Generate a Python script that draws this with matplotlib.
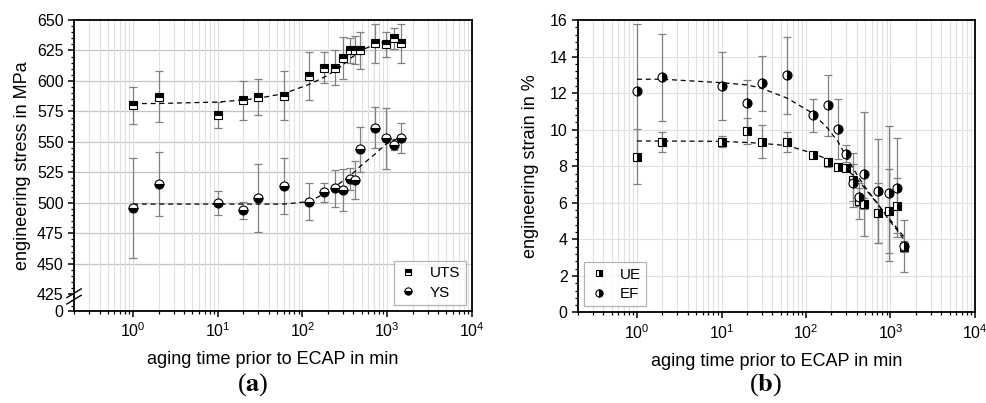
import numpy as np
import matplotlib
matplotlib.use("Agg")
import matplotlib.pyplot as plt
from matplotlib.ticker import LogLocator, MultipleLocator, NullFormatter

plt.rcParams["font.family"] = ["Liberation Sans", "DejaVu Sans"]
plt.rcParams["mathtext.fontset"] = "stix"

# aging time prior to ECAP in min
time = [1, 2, 10, 20, 30, 60, 120, 180, 240, 300, 360, 420, 480, 720, 960, 1200, 1440]

# (a) engineering stress in MPa
uts = [580, 587, 572, 584, 587, 588, 604, 611, 611, 619, 625, 625, 625, 631, 630, 635, 631]
uts_err = [15, 21, 10.5, 16, 15, 20, 19.5, 12.5, 14, 17, 10, 11.5, 15, 16, 10, 8.5, 16]
uts_fit = [581.4, 581.5, 582.7, 584.4, 585.8, 589.6, 597.2, 603, 608.2, 613, 618, 621.3,
           624.8, 630, 632, 633, 633.6]
ys = [495.5, 515.5, 500, 494, 503.7, 514, 501, 508.5, 512, 510.5, 519.6, 518.7, 544,
      561.7, 553, 547.5, 553]
ys_err = [41, 26, 10, 7, 28, 23, 15, 7.5, 15, 17, 8.7, 15.5, 18.5, 17, 25, 4.5, 12.5]
ys_fit = [499, 499, 499, 499, 499, 499, 501, 507.5, 513, 518, 522, 526, 530, 540, 548,
          551.5, 553]

# (b) engineering strain in %
ue = [8.52, 9.33, 9.33, 9.93, 9.34, 9.34, 8.6, 8.22, 7.98, 7.92, 7.25, 6.1, 5.94, 5.46,
      5.55, 5.83, 3.6]
ue_err = [1.5, 0.55, 0.3, 0.7, 0.9, 0.55, 0.1, 0.25, 0.15, 0.15, 1.5, 1.0, 0.3, 1.65,
          2.3, 1.5, 0.3]
ue_fit = [9.38, 9.38, 9.36, 9.3, 9.25, 9.13, 8.71, 8.38, 8.07, 7.8, 7.52, 7.2, 6.88,
          5.88, 5.15, 4.6, 4.15]
ef = [12.13, 12.86, 12.39, 11.44, 12.54, 12.97, 10.8, 11.33, 10.02, 8.69, 7.1, 6.33,
      7.56, 6.65, 6.52, 6.83, 3.64]
ef_err = [3.64, 2.4, 1.85, 1.3, 1.5, 2.1, 0.9, 1.65, 1.65, 0.47, 1.0, 0.5, 3.4, 2.85,
          3.7, 2.7, 1.4]
ef_fit = [12.76, 12.76, 12.57, 12.45, 12.26, 11.72, 10.9, 10.08, 9.34, 8.52, 7.89, 7.4,
          6.97, 5.9, 5.06, 4.5, 4.0]

stress_ticks = [425, 450, 475, 500, 525, 550, 575, 600, 625, 650]
strain_ticks = [0, 2, 4, 6, 8, 10, 12, 14, 16]

ZERO_POS = 411.3  # where the "0" sits below the axis break

fig = plt.figure(figsize=(9.87, 4.03), dpi=100)
ax1 = fig.add_axes([0.075, 0.2283, 0.403, 0.7221])
ax2 = fig.add_axes([0.5856, 0.2246, 0.4022, 0.7258])

err_kw = dict(ecolor="#808080", elinewidth=0.9, capsize=3.2, capthick=0.9, linestyle="none")
mk_kw = dict(markeredgecolor="black", markeredgewidth=0.8,
             markerfacecolor="black", markerfacecoloralt="white", linestyle="none")


def style_axes(ax):
    ax.set_xscale("log")
    ax.set_xlim(0.2, 1e4)
    ax.xaxis.set_major_locator(LogLocator(base=10, numticks=10))
    ax.xaxis.set_minor_locator(LogLocator(base=10, subs=np.arange(2, 10), numticks=20))
    ax.xaxis.set_minor_formatter(NullFormatter())
    ax.xaxis.grid(True, which="both", color="#e0e0e0", lw=0.8)
    ax.set_axisbelow(True)
    for s in ax.spines.values():
        s.set_linewidth(1.3)
    ax.tick_params(which="major", direction="out", length=4, width=1.1, labelsize=11.5)
    ax.tick_params(which="minor", direction="out", length=2.5, width=0.9)
    ax.set_xlabel("aging time prior to ECAP in min", fontsize=13, labelpad=8)


# ---- (a)
style_axes(ax1)
ax1.set_ylim(ZERO_POS, 650)
ax1.set_yticks([ZERO_POS] + stress_ticks)
ax1.set_yticklabels(["0"] + [str(v) for v in stress_ticks])
ax1.yaxis.set_minor_locator(MultipleLocator(5))
for v in stress_ticks[1:-1]:
    ax1.axhline(v, color="#c4c4c4", lw=0.9, zorder=0.5)

ax1.errorbar(time, uts, yerr=uts_err, **err_kw, zorder=2)
ax1.errorbar(time, ys, yerr=ys_err, **err_kw, zorder=2)
ax1.plot(time, uts_fit, color="black", lw=0.9, dashes=(4, 3), zorder=3)
ax1.plot(time, ys_fit, color="black", lw=0.9, dashes=(4, 3), zorder=3)
ax1.plot(time, uts, marker="s", markersize=5.6, fillstyle="top", label="UTS", zorder=4, **mk_kw)
ax1.plot(time, ys, marker="o", markersize=6.5, fillstyle="bottom", label="YS", zorder=4, **mk_kw)
ax1.set_ylabel("engineering stress in MPa", fontsize=13, labelpad=4)

# axis break marks
for dy in (-0.011, 0.011):
    ax1.plot([-0.018, 0.018], [0.05 + dy - 0.015, 0.05 + dy + 0.015],
             transform=ax1.transAxes, color="black", lw=1, clip_on=False, zorder=6)

leg1 = ax1.legend(loc="lower right", fontsize=11, frameon=True, fancybox=False,
                  edgecolor="#a0a0a0", handlelength=1.2, markerscale=0.8,
                  borderaxespad=0.4, labelspacing=0.35, borderpad=0.35)
leg1.get_frame().set_linewidth(0.9)

# ---- (b)
style_axes(ax2)
ax2.set_ylim(0, 16)
ax2.set_yticks(strain_ticks)
ax2.yaxis.set_minor_locator(MultipleLocator(0.4))
ax2.yaxis.grid(True, which="major", color="#e0e0e0", lw=0.8)

ax2.errorbar(time, ue, yerr=ue_err, **err_kw, zorder=2)
ax2.errorbar(time, ef, yerr=ef_err, **err_kw, zorder=2)
ax2.plot(time, ue_fit, color="black", lw=0.9, dashes=(4, 3), zorder=3)
ax2.plot(time, ef_fit, color="black", lw=0.9, dashes=(4, 3), zorder=3)
ax2.plot(time, ue, marker="s", markersize=5.6, fillstyle="right", label="UE", zorder=4, **mk_kw)
ax2.plot(time, ef, marker="o", markersize=6.5, fillstyle="right", label="EF", zorder=4, **mk_kw)
ax2.set_ylabel("engineering strain in %", fontsize=13, labelpad=8)

leg2 = ax2.legend(loc="lower left", fontsize=11, frameon=True, fancybox=False,
                  edgecolor="#a0a0a0", handlelength=1.2, markerscale=0.8,
                  borderaxespad=0.4, labelspacing=0.35, borderpad=0.35)
leg2.get_frame().set_linewidth(0.9)

# panel letters
fig.text(0.256, 0.045, r"($\mathbf{a}$)", ha="center", va="center", fontsize=19,
         family="Liberation Serif")
fig.text(0.776, 0.045, r"($\mathbf{b}$)", ha="center", va="center", fontsize=19,
         family="Liberation Serif")

fig.savefig("out.png", dpi=100)
